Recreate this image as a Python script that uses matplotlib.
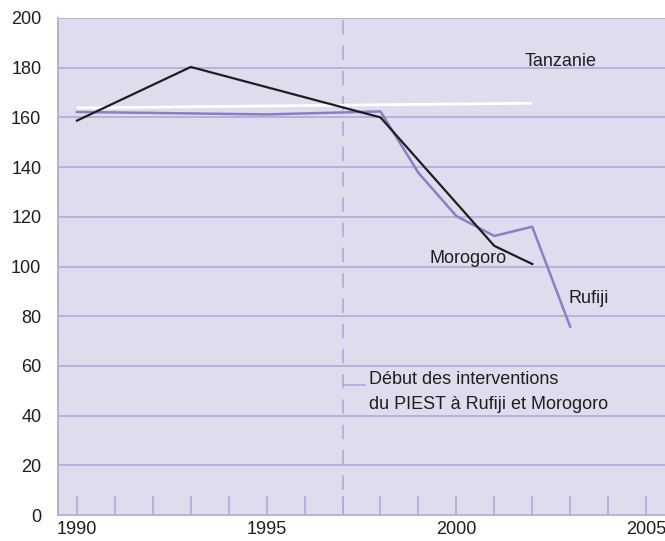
import numpy as np
import matplotlib.pyplot as plt

plt.rcParams['font.family'] = ['Liberation Sans Narrow', 'Liberation Sans', 'DejaVu Sans']

# Data
tanz_years = [1990, 2002]
tanz_vals = [163.8, 165.7]

moro_years = [1990, 1993, 1998, 2001, 2002]
moro_vals = [158.7, 180.3, 160.0, 108.3, 101.0]

rufi_years = [1990, 1995, 1998, 1999, 2000, 2001, 2002, 2003]
rufi_vals = [162.2, 161.2, 162.4, 137.7, 120.3, 112.3, 116.0, 75.8]

start_year = 1997
y_ticks = list(range(0, 201, 20))
x_ticks = [1990, 1995, 2000, 2005]

bg = '#dfdcee'
grid = '#b3addb'
purple = '#8880c4'
txt = '#1e1e1e'

fig = plt.figure(figsize=(6.65, 5.41), dpi=100)
ax = fig.add_axes([58 / 665, 26 / 541, 1 - 58 / 665, (515 - 18) / 541])
ax.set_facecolor(bg)

ax.set_xlim(1989.5, 2005.5)
ax.set_ylim(0, 200)

for y in y_ticks[1:]:
    ax.axhline(y, color=grid, lw=1.3, zorder=1)

ax.axvline(start_year, color=grid, lw=1.3, dashes=(8, 6), zorder=1)

ax.plot(tanz_years, tanz_vals, color='white', lw=2, solid_capstyle='butt', zorder=3)
ax.plot(rufi_years, rufi_vals, color=purple, lw=1.8, zorder=4)
ax.plot(moro_years, moro_vals, color=txt, lw=1.6, zorder=5)

ax.text(2001.8, 179, 'Tanzanie', fontsize=13, color=txt, ha='left', va='bottom')
ax.text(2000.3, 103.4, 'Morogoro', fontsize=13, color=txt, ha='center', va='center')
ax.text(2002.95, 87.3, 'Rufiji', fontsize=13, color=txt, ha='left', va='center')

ax.plot([start_year, start_year + 0.6], [52.3, 52.3], color=grid, lw=1.3, zorder=2)
ax.text(start_year + 0.7, 49.5, 'Début des interventions\ndu PIEST à Rufiji et Morogoro',
        fontsize=13, color=txt, ha='left', va='center', linespacing=1.55)

ax.set_yticks(y_ticks)
ax.set_xticks(x_ticks)
ax.set_xticks(range(1990, 2006), minor=True)
ax.tick_params(axis='y', length=0, pad=12, labelsize=13, labelcolor=txt)
ax.tick_params(axis='x', which='both', direction='in', length=14, width=1.3,
               color=grid, labelsize=13, labelcolor=txt, pad=4)

for s in ['top', 'right']:
    ax.spines[s].set_visible(False)
for s in ['left', 'bottom']:
    ax.spines[s].set_color(grid)
    ax.spines[s].set_linewidth(1.3)

fig.savefig('out.png', dpi=100)
